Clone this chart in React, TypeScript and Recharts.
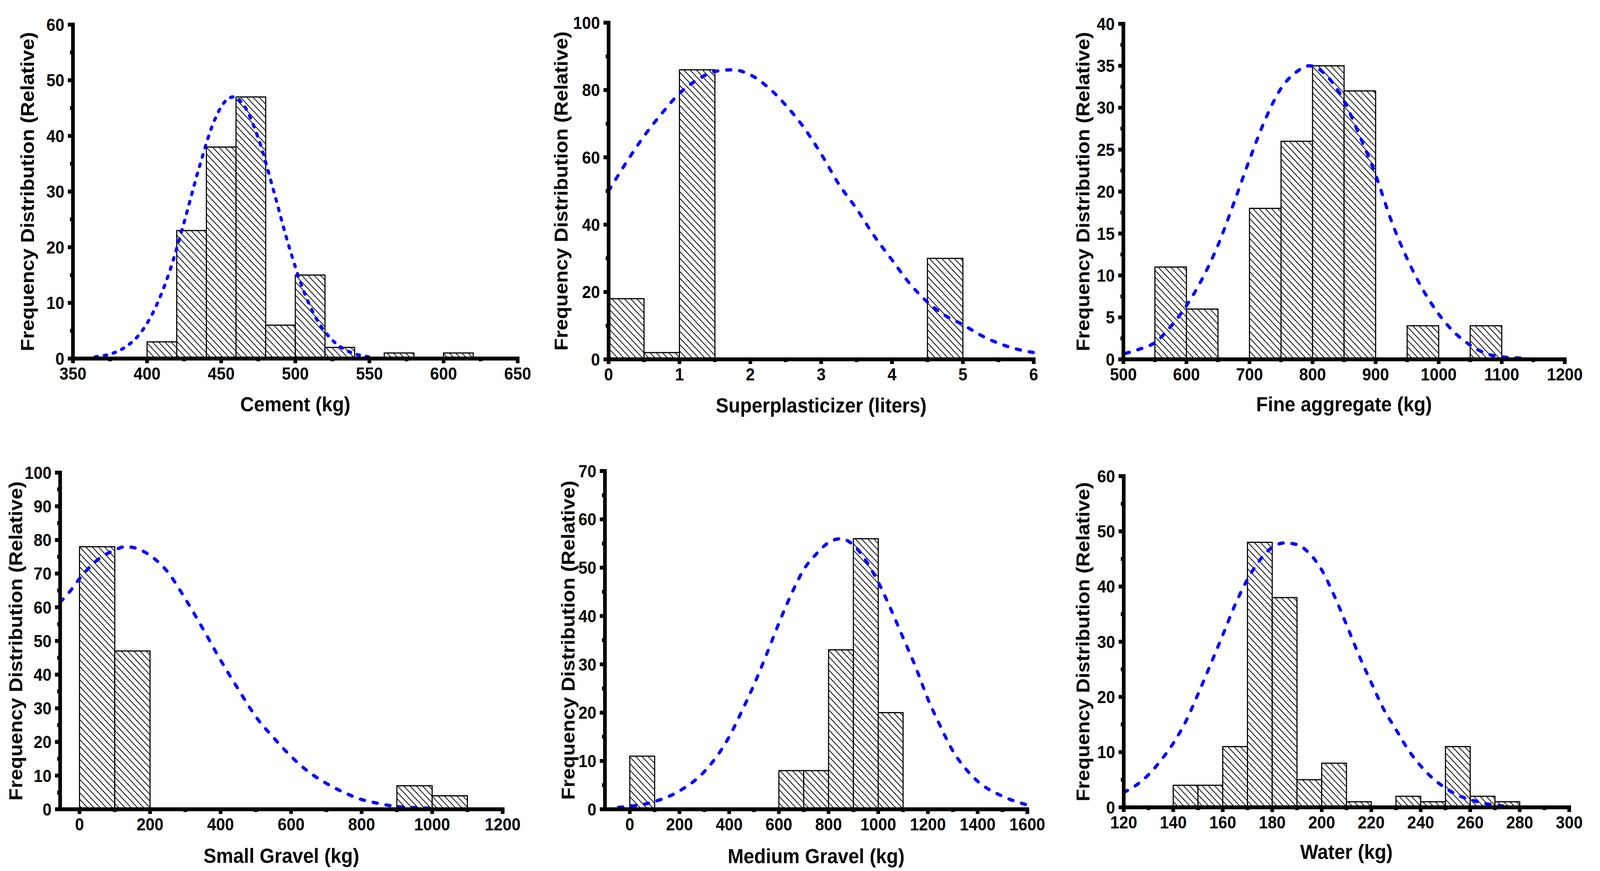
import React, { useEffect, useState } from 'react';
import { ComposedChart, Line, XAxis, YAxis, ReferenceArea, Label } from 'recharts';

const FONT = '"Liberation Sans", Arial, Helvetica, sans-serif';
const Y_TITLE = 'Frequency Distribution (Relative)';
const PAGE_W = 4364;
const PAGE_H = 2230;

// ---------- Cement ----------
const cementBinStart = [400, 420, 440, 460, 480, 500, 520, 540, 560, 580, 600];
const cementCounts = [3, 23, 38, 47, 6, 15, 2, 0, 1, 0, 1];
const cementCurveX = [365, 375, 385, 395, 405, 415, 425, 435, 445, 452, 458, 465, 475, 485, 495, 505, 515, 525, 535, 545, 550];
const cementCurveY = [0.3, 0.8, 2.0, 4.4, 8.8, 15.5, 24.5, 34.2, 42.5, 46, 47, 45.6, 39.6, 30.5, 20.8, 12.6, 6.8, 3.3, 1.4, 0.5, 0.3];
const cementXTicks = [350, 400, 450, 500, 550, 600, 650];
const cementXMinor = [375, 425, 475, 525, 575, 625];
const cementYTicks = [0, 10, 20, 30, 40, 50, 60];
const cementYMinor = [5, 15, 25, 35, 45, 55];

// ---------- Superplasticizer ----------
const superBinStart = [0, 0.5, 1, 1.5, 2, 2.5, 3, 3.5, 4, 4.5];
const superCounts = [18, 2, 86, 0, 0, 0, 0, 0, 0, 30];
const superCurveX = [0, 0.25, 0.5, 0.75, 1, 1.25, 1.5, 1.75, 2, 2.25, 2.5, 2.75, 3, 3.25, 3.5, 3.75, 4, 4.25, 4.5, 4.75, 5, 5.25, 5.5, 5.75, 6];
const superCurveY = [50, 58.5, 66.3, 73, 79, 83, 85.5, 86, 84.5, 80.8, 75.5, 69, 61, 52, 44.7, 36.6, 29.5, 22.5, 17, 13, 10.3, 7.2, 4.8, 3.1, 2];
const superXTicks = [0, 1, 2, 3, 4, 5, 6];
const superXMinor = [0.5, 1.5, 2.5, 3.5, 4.5, 5.5];
const superYTicks = [0, 20, 40, 60, 80, 100];
const superYMinor = [10, 30, 50, 70, 90];

// ---------- Fine aggregate ----------
const fineBinStart = [550, 600, 650, 700, 750, 800, 850, 900, 950, 1000, 1050];
const fineCounts = [11, 6, 0, 18, 26, 35, 32, 0, 4, 0, 4];
const fineCurveX = [503, 525, 550, 575, 600, 625, 650, 675, 700, 725, 750, 775, 795, 825, 850, 875, 900, 925, 950, 975, 1000, 1025, 1050, 1075, 1100, 1130];
const fineCurveY = [0.7, 1.2, 2.0, 3.9, 6.4, 9.6, 13.6, 18.6, 23.8, 28.6, 32.3, 34.3, 35, 33.6, 30.8, 26.6, 22, 16.5, 12, 8.3, 5.4, 3.2, 1.7, 0.7, 0.3, 0.15];
const fineXTicks = [500, 600, 700, 800, 900, 1000, 1100, 1200];
const fineXMinor = [550, 650, 750, 850, 950, 1050, 1150];
const fineYTicks = [0, 5, 10, 15, 20, 25, 30, 35, 40];
const fineYMinor = [2.5, 7.5, 12.5, 17.5, 22.5, 27.5, 32.5, 37.5];

// ---------- Small gravel ----------
const smallBinStart = [0, 100, 200, 300, 400, 500, 600, 700, 800, 900, 1000];
const smallCounts = [78, 47, 0, 0, 0, 0, 0, 0, 0, 7, 4];
const smallCurveX = [-55, -25, 0, 50, 100, 130, 150, 200, 250, 300, 350, 400, 450, 500, 550, 600, 650, 700, 750, 800, 850, 900, 950, 1000];
const smallCurveY = [61.5, 65, 68.5, 74, 77, 78, 77.8, 75.4, 70.5, 62.5, 53.6, 44.3, 35.7, 27.5, 21.3, 15.7, 11.1, 7.7, 5, 2.9, 1.7, 0.8, 0.5, 0.3];
const smallXTicks = [0, 200, 400, 600, 800, 1000, 1200];
const smallXMinor = [100, 300, 500, 700, 900, 1100];
const smallYTicks = [0, 10, 20, 30, 40, 50, 60, 70, 80, 90, 100];
const smallYMinor = [5, 15, 25, 35, 45, 55, 65, 75, 85, 95];

// ---------- Medium gravel ----------
const mediumBinStart = [0, 100, 200, 300, 400, 500, 600, 700, 800, 900, 1000];
const mediumCounts = [11, 0, 0, 0, 0, 0, 8, 8, 33, 56, 20];
const mediumCurveX = [-45, 0, 100, 200, 300, 400, 450, 500, 550, 600, 650, 700, 750, 800, 850, 900, 950, 1000, 1050, 1100, 1150, 1200, 1250, 1300, 1350, 1400, 1500, 1600];
const mediumCurveY = [0.4, 0.6, 1.6, 3.8, 7.8, 15, 20.2, 25.8, 32, 38.5, 44.5, 49.6, 52.8, 55.2, 56, 54.7, 51.5, 47, 41.5, 35.5, 29.5, 22.8, 17.2, 12.1, 8.5, 5.8, 2.7, 0.9];
const mediumXTicks = [0, 200, 400, 600, 800, 1000, 1200, 1400, 1600];
const mediumXMinor = [100, 300, 500, 700, 900, 1100, 1300, 1500];
const mediumYTicks = [0, 10, 20, 30, 40, 50, 60, 70];
const mediumYMinor = [5, 15, 25, 35, 45, 55, 65];

// ---------- Water ----------
const waterBinStart = [140, 150, 160, 170, 180, 190, 200, 210, 220, 230, 240, 250, 260, 270];
const waterCounts = [4, 4, 11, 48, 38, 5, 8, 1, 0, 2, 1, 11, 2, 1];
const waterCurveX = [120, 125, 130, 135, 140, 145, 150, 155, 160, 165, 170, 175, 180, 185, 190, 195, 200, 205, 210, 215, 220, 225, 230, 235, 240, 245, 250, 255, 260, 265, 270, 275];
const waterCurveY = [2.7, 4.0, 5.9, 8.5, 11.6, 15.5, 20.5, 25.8, 31.2, 36.7, 41.3, 44.8, 47.1, 47.9, 47.6, 46, 43, 38.4, 33.1, 27.6, 22.6, 17.8, 14.1, 10.4, 7.5, 5.2, 3.5, 2.2, 1.4, 0.8, 0.4, 0.15];
const waterXTicks = [120, 140, 160, 180, 200, 220, 240, 260, 280, 300];
const waterXMinor = [130, 150, 170, 190, 210, 230, 250, 270, 290];
const waterYTicks = [0, 10, 20, 30, 40, 50, 60];
const waterYMinor = [5, 15, 25, 35, 45, 55];

type PanelCfg = {
  key: string;
  px0: number; px1: number; py0: number; py1: number;
  xMin: number; xMax: number; yMax: number;
  binStart: number[]; binWidth: number; counts: number[];
  curveX: number[]; curveY: number[];
  xTicks: number[]; xMinor: number[]; yTicks: number[]; yMinor: number[];
  xTitle: string; yTitleOff: number; xTitleOff: number; dash: string;
};

const panels: PanelCfg[] = [
  { key: 'cement', px0: 199, px1: 1412, py0: 63, py1: 918, xMin: 350, xMax: 650, yMax: 60,
    binStart: cementBinStart, binWidth: 20, counts: cementCounts, curveX: cementCurveX, curveY: cementCurveY,
    xTicks: cementXTicks, xMinor: cementXMinor, yTicks: cementYTicks, yMinor: cementYMinor,
    xTitle: 'Cement (kg)', yTitleOff: 106, xTitleOff: 135, dash: '6.5 18.5' },
  { key: 'super', px0: 1660, px1: 2819.5, py0: 58, py1: 920, xMin: 0, xMax: 6, yMax: 100,
    binStart: superBinStart, binWidth: 0.5, counts: superCounts, curveX: superCurveX, curveY: superCurveY,
    xTicks: superXTicks, xMinor: superXMinor, yTicks: superYTicks, yMinor: superYMinor,
    xTitle: 'Superplasticizer (liters)', yTitleOff: 111.5, xTitleOff: 136, dash: '11.5 24' },
  { key: 'fine', px0: 3064, px1: 4268, py0: 60.5, py1: 919.5, xMin: 500, xMax: 1200, yMax: 40,
    binStart: fineBinStart, binWidth: 50, counts: fineCounts, curveX: fineCurveX, curveY: fineCurveY,
    xTicks: fineXTicks, xMinor: fineXMinor, yTicks: fineYTicks, yMinor: fineYMinor,
    xTitle: 'Fine aggregate (kg)', yTitleOff: 92.5, xTitleOff: 133, dash: '11.5 24' },
  { key: 'small', px0: 164, px1: 1371, py0: 1210, py1: 2072, xMin: -55, xMax: 1200, yMax: 100,
    binStart: smallBinStart, binWidth: 100, counts: smallCounts, curveX: smallCurveX, curveY: smallCurveY,
    xTicks: smallXTicks, xMinor: smallXMinor, yTicks: smallYTicks, yMinor: smallYMinor,
    xTitle: 'Small Gravel (kg)', yTitleOff: 103, xTitleOff: 137, dash: '11.5 24' },
  { key: 'medium', px0: 1650, px1: 2802, py0: 1206, py1: 2072, xMin: -100, xMax: 1600, yMax: 70,
    binStart: mediumBinStart, binWidth: 100, counts: mediumCounts, curveX: mediumCurveX, curveY: mediumCurveY,
    xTicks: mediumXTicks, xMinor: mediumXMinor, yTicks: mediumYTicks, yMinor: mediumYMinor,
    xTitle: 'Medium Gravel (kg)', yTitleOff: 83, xTitleOff: 138, dash: '11.5 24' },
  { key: 'water', px0: 3065, px1: 4280, py0: 1219, py1: 2067, xMin: 120, xMax: 300, yMax: 60,
    binStart: waterBinStart, binWidth: 10, counts: waterCounts, curveX: waterCurveX, curveY: waterCurveY,
    xTicks: waterXTicks, xMinor: waterXMinor, yTicks: waterYTicks, yMinor: waterYMinor,
    xTitle: 'Water (kg)', yTitleOff: 93.5, xTitleOff: 132, dash: '11.5 24' },
];

const X_TS = 12;
const X_TM = 11;
const Y_TS = 14;
const Y_TM = 9.5;
const TICK_FONT = 44;
const TITLE_FONT = 52;

const isIn = (arr: number[], v: number) => arr.some((m) => Math.abs(m - v) < 1e-6);

function XTick(props: any) {
  const { x, y, payload, majors } = props;
  const v = Number(payload.value);
  const major = isIn(majors, v);
  const ay = y - X_TS - X_TM;
  return (
    <g>
      <line x1={x} x2={x} y1={ay} y2={ay + (major ? 12 : 7)} stroke="#000" strokeWidth={10} />
      {major ? (
        <text x={x} y={ay + 54.5} textAnchor="middle" fontFamily={FONT} fontWeight={700} fontSize={TICK_FONT} fill="#000">
          {String(v)}
        </text>
      ) : null}
    </g>
  );
}

function YTick(props: any) {
  const { x, y, payload, majors } = props;
  const v = Number(payload.value);
  const major = isIn(majors, v);
  const ax = x + Y_TS + Y_TM;
  return (
    <g>
      <line x1={ax} x2={ax - (major ? 14 : 8)} y1={y} y2={y} stroke="#000" strokeWidth={10} />
      {major ? (
        <text x={x} y={y + 15.75} textAnchor="end" fontFamily={FONT} fontWeight={700} fontSize={TICK_FONT} fill="#000">
          {String(v)}
        </text>
      ) : null}
    </g>
  );
}

function Panel({ p }: { p: PanelCfg }) {
  const YW = 160, MT = 40, MR = 60, XH = 170;
  const w = YW + (p.px1 - p.px0) + MR;
  const h = MT + (p.py1 - p.py0) + XH;
  const data = p.curveX.map((x, i) => ({ x, y: p.curveY[i] }));
  const bins = p.binStart
    .map((s, i) => ({ s, e: s + p.binWidth, c: p.counts[i] }))
    .filter((b) => b.c > 0);
  const pid = `hatch-${p.key}`;
  const allX = [...p.xTicks, ...p.xMinor].sort((a, b) => a - b);
  const allY = [...p.yTicks, ...p.yMinor].sort((a, b) => a - b);
  return (
    <div style={{ position: 'absolute', left: p.px0 - YW, top: p.py0 - MT, width: w, height: h }}>
      <ComposedChart width={w} height={h} data={data} margin={{ top: MT, right: MR, bottom: 0, left: 0 }}>
        <defs>
          <pattern id={pid} patternUnits="userSpaceOnUse" width={17} height={17}>
            <rect width={17} height={17} fill="#fff" />
            <path d="M-4,-4 L21,21 M-4,13 L4,21 M13,-4 L21,4" stroke="#000" strokeWidth={2} />
          </pattern>
        </defs>
        {bins.map((b) => (
          <ReferenceArea
            key={`${p.key}-${b.s}`}
            x1={b.s}
            x2={b.e}
            y1={0}
            y2={b.c}
            fill={`url(#${pid})`}
            fillOpacity={1}
            stroke="#000"
            strokeWidth={3}
            ifOverflow="visible"
          />
        ))}
        <Line
          dataKey="y"
          type="monotone"
          stroke="#0000FF"
          strokeWidth={8.5}
          strokeDasharray={p.dash}
          strokeLinecap="round"
          dot={false}
          activeDot={false}
          isAnimationActive={false}
        />
        <XAxis
          dataKey="x"
          type="number"
          domain={[p.xMin, p.xMax]}
          ticks={allX}
          interval={0}
          height={XH}
          tickSize={X_TS}
          tickMargin={X_TM}
          tickLine={false}
          axisLine={{ stroke: '#000', strokeWidth: 10, strokeLinecap: 'square' } as any}
          tick={(tp: any) => <XTick {...tp} majors={p.xTicks} />}
        >
          <Label
            content={(lp: any) => {
              const vb = lp.viewBox || { x: YW, y: MT + (p.py1 - p.py0), width: p.px1 - p.px0, height: XH };
              return (
                <text
                  x={vb.x + vb.width / 2}
                  y={vb.y + p.xTitleOff}
                  textAnchor="middle"
                  fontFamily={FONT}
                  fontWeight={700}
                  fontSize={TITLE_FONT}
                  fill="#000"
                >
                  {p.xTitle}
                </text>
              );
            }}
          />
        </XAxis>
        <YAxis
          type="number"
          domain={[0, p.yMax]}
          ticks={allY}
          interval={0}
          width={YW}
          tickSize={Y_TS}
          tickMargin={Y_TM}
          tickLine={false}
          axisLine={{ stroke: '#000', strokeWidth: 10, strokeLinecap: 'square' } as any}
          tick={(tp: any) => <YTick {...tp} majors={p.yTicks} />}
        >
          <Label
            content={(lp: any) => {
              const vb = lp.viewBox || { x: 0, y: MT, width: YW, height: p.py1 - p.py0 };
              const cx = vb.x + vb.width - p.yTitleOff;
              const cy = vb.y + vb.height / 2;
              return (
                <text
                  x={cx}
                  y={cy}
                  transform={`rotate(-90 ${cx} ${cy})`}
                  textAnchor="middle"
                  fontFamily={FONT}
                  fontWeight={700}
                  fontSize={TITLE_FONT}
                  fill="#000"
                >
                  {Y_TITLE}
                </text>
              );
            }}
          />
        </YAxis>
      </ComposedChart>
    </div>
  );
}

function getScale() {
  if (typeof window === 'undefined') return { sx: 1, sy: 1 };
  const sx = window.innerWidth ? window.innerWidth / PAGE_W : 1;
  const sy = window.innerHeight ? window.innerHeight / PAGE_H : 1;
  return { sx, sy };
}

export default function App() {
  const [scale, setScale] = useState(getScale());
  useEffect(() => {
    const onResize = () => setScale(getScale());
    window.addEventListener('resize', onResize);
    onResize();
    return () => window.removeEventListener('resize', onResize);
  }, []);
  return (
    <div
      style={{
        position: 'absolute',
        left: 0,
        top: 0,
        width: PAGE_W,
        height: PAGE_H,
        background: '#fff',
        overflow: 'hidden',
        transform: `scale(${scale.sx}, ${scale.sy})`,
        transformOrigin: '0 0',
      }}
    >
      {panels.map((p) => (
        <Panel key={p.key} p={p} />
      ))}
    </div>
  );
}
